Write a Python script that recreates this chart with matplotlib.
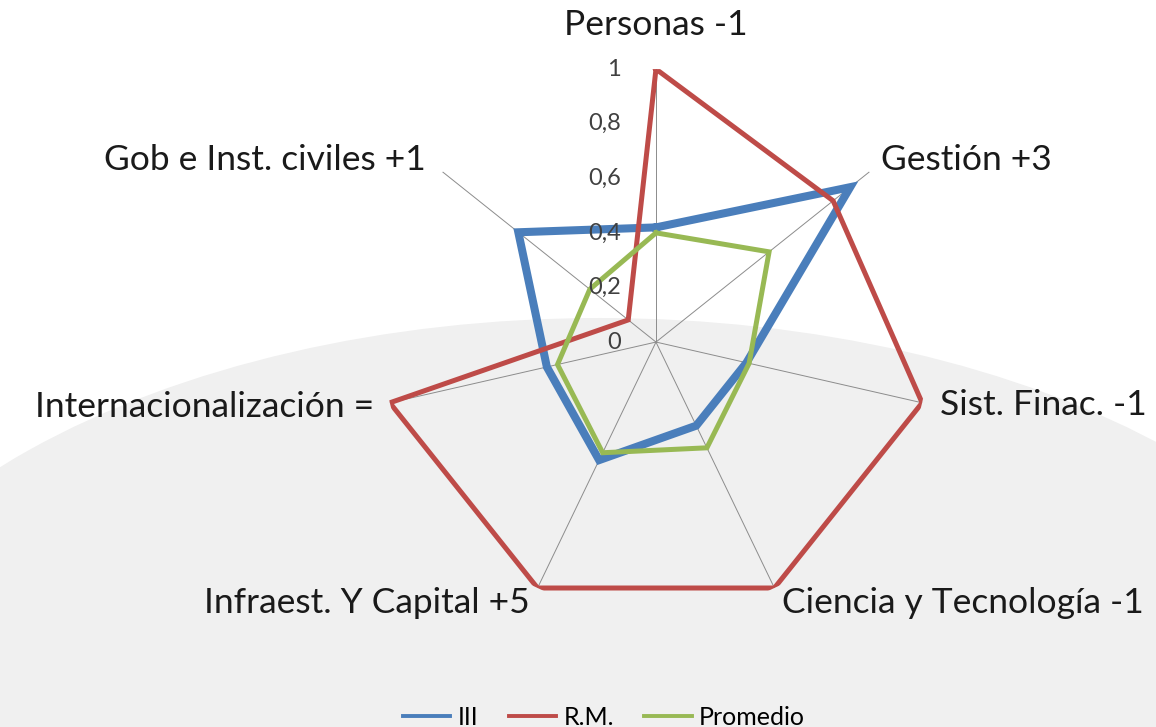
import numpy as np
import matplotlib
matplotlib.use('Agg')
import matplotlib.pyplot as plt
from matplotlib.patches import Ellipse
from matplotlib.lines import Line2D
import matplotlib.transforms as mtransforms

plt.rcParams['font.family'] = ['Lato', 'DejaVu Sans']

categories = ['Personas -1', 'Gestión +3', 'Sist. Finac. -1',
              'Ciencia y Tecnología -1', 'Infraest. Y Capital +5',
              'Internacionalización =', 'Gob e Inst. civiles +1']
series_names = ['III', 'R.M.', 'Promedio']
iii = [0.42, 0.91, 0.34, 0.34, 0.48, 0.41, 0.645]
rm = [1.0, 0.83, 1.0, 1.0, 1.0, 1.0, 0.13]
promedio = [0.40, 0.53, 0.35, 0.43, 0.45, 0.37, 0.31]
tick_values = [0, 0.2, 0.4, 0.6, 0.8, 1]
tick_labels = ['0', '0,2', '0,4', '0,6', '0,8', '1']

colors = ['#4a7ebb', '#be4b48', '#98b954']
widths = [5.8, 3.6, 3.6]

fig = plt.figure(figsize=(11.56, 7.27), dpi=100)
fig.patch.set_facecolor('white')

# grey background swoosh
bg = Ellipse((0.519, -0.0564), 1.396, 1.238, transform=fig.transFigure,
             facecolor='#f0f0f0', edgecolor='none', zorder=-5)
fig.add_artist(bg)

ax = fig.add_axes([0.3313, 0.154, 0.4723, 0.751], projection='polar')
ax.set_facecolor('none')
ax.set_theta_offset(np.pi / 2)
ax.set_theta_direction(-1)
ax.set_ylim(0, 1)

n = len(categories)
theta = np.linspace(0, 2 * np.pi, n, endpoint=False)
ax.set_xticks(theta)
ax.set_xticklabels([])
ax.set_yticks([])
ax.xaxis.grid(True, color='#8c8c8c', lw=0.7)
ax.yaxis.grid(False)
ax.spines['polar'].set_visible(False)

th = np.append(theta, theta[0])
for vals, c, w in zip([iii, rm, promedio], colors, widths):
    v = np.append(vals, vals[0])
    ax.plot(th, v, color=c, lw=w, solid_joinstyle='miter')

# value labels left of the vertical axis
off = mtransforms.offset_copy(ax.transData, fig=fig, x=-35, y=0, units='dots')
for v, lab in zip(tick_values, tick_labels):
    ax.text(0, v, lab, transform=off, ha='right', va='center',
            fontsize=17, color='#404040')

# category labels at the spoke ends
offsets = [(0, 44, 'center'), (12, 12, 'left'), (18, -2, 'left'),
           (8, -15, 'left'), (-8, -15, 'right'), (-16, -4, 'right'),
           (-17, 12, 'right')]
for t, lab, (dx, dy, ha) in zip(theta, categories, offsets):
    tr = mtransforms.offset_copy(ax.transData, fig=fig, x=dx, y=dy,
                                 units='dots')
    ax.text(t, 1.0, lab, transform=tr, ha=ha, va='center',
            fontsize=25.5, color='#1a1a1a')

handles = [Line2D([], [], color=c, lw=2.8) for c in colors]
fig.legend(handles, series_names, loc='center', bbox_to_anchor=(0.5225, 0.013),
           ncol=3, frameon=False, fontsize=18, handlelength=1.9,
           columnspacing=1.2, handletextpad=0.3)

fig.savefig('out.png', dpi=100, facecolor=fig.get_facecolor())
